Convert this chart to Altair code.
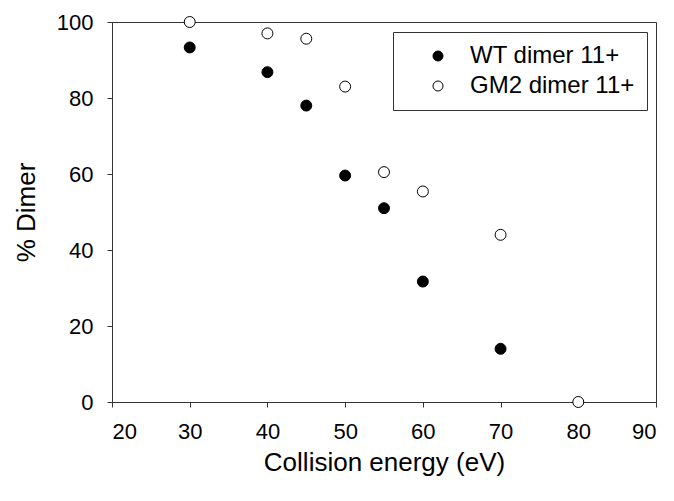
import altair as alt
import pandas as pd

wt_x = [30, 40, 45, 50, 55, 60, 70]
wt_y = [93.3, 86.8, 78.0, 59.6, 51.0, 31.7, 14.0]
gm_x = [30, 40, 45, 50, 55, 60, 70, 80]
gm_y = [100.0, 97.0, 95.6, 83.0, 60.5, 55.4, 44.0, 0.0]
series = ["WT dimer 11+", "GM2 dimer 11+"]

df = pd.concat([
    pd.DataFrame({"x": wt_x, "y": wt_y, "s": series[0]}),
    pd.DataFrame({"x": gm_x, "y": gm_y, "s": series[1]}),
])

FONT = "Liberation Sans"

chart = alt.Chart(df).mark_point(
    shape="circle", stroke="black", strokeWidth=1, size=120, opacity=1, fillOpacity=1
).encode(
    x=alt.X("x:Q", scale=alt.Scale(domain=[20, 90], nice=False, zero=False),
            axis=alt.Axis(title="Collision energy (eV)", values=[20, 30, 40, 50, 60, 70, 80, 90],
                          format="d", titlePadding=7)),
    y=alt.Y("y:Q", scale=alt.Scale(domain=[0, 100], nice=False),
            axis=alt.Axis(title="% Dimer", values=[0, 20, 40, 60, 80, 100], titlePadding=17)),
    fill=alt.Fill("s:N", scale=alt.Scale(domain=series, range=["black", "white"]),
                  legend=alt.Legend(title=None, orient="none", legendX=281, legendY=10,
                                    strokeColor="#333333", padding=12, symbolOffset=21,
                                    labelOffset=20, symbolSize=100, symbolType="circle",
                                    symbolStrokeColor="black", symbolStrokeWidth=1,
                                    labelFontSize=24, labelFont=FONT, labelColor="black",
                                    labelLimit=400, rowPadding=6, fillColor="white")),
).properties(
    width=544, height=380,
    autosize=alt.AutoSizeParams(type="none"),
    padding={"left": 104, "top": 14, "right": 10, "bottom": 85},
).configure_view(
    stroke="#333333", strokeWidth=1
).configure_axis(
    grid=False, domainColor="#333333", tickColor="#333333", tickSize=5,
    labelFont=FONT, labelFontSize=22, labelColor="black",
    titleFont=FONT, titleFontSize=26, titleFontWeight="normal", titleColor="black",
    labelPadding=14,
)

chart.save("out.html", embed_options={"renderer": "svg", "actions": False})
